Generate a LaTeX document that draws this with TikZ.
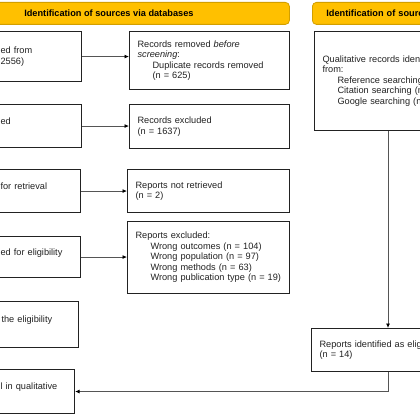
\documentclass[tikz,border=0pt]{standalone}
\usepackage{fontspec}
\setmainfont{Liberation Sans}
\usetikzlibrary{arrows.meta}
\definecolor{hdrfill}{HTML}{FFC000}
\definecolor{hdrdraw}{HTML}{D29F00}
\definecolor{linegray}{HTML}{555555}
\definecolor{boxline}{HTML}{222222}
\begin{document}
\begin{tikzpicture}[x=1pt,y=-1pt,
 every node/.style={font=\fontsize{9.2pt}{10.5pt}\selectfont, text=boxline},
 box/.style={draw=boxline, line width=1.1pt, inner xsep=8pt, inner ysep=2pt, align=left, anchor=north west},
 hdr/.style={draw=hdrdraw, fill=hdrfill, line width=0.8pt, rounded corners=4pt,
   font=\fontsize{9.2pt}{10.5pt}\selectfont\bfseries, text=black, anchor=north west, inner sep=0pt},
 arr/.style={draw=linegray, line width=0.8pt, -{Latex[length=4.5pt,width=4pt,color=black]}}]
\useasboundingbox (0,0) rectangle (420,420);
\clip (0,0) rectangle (420,420);
\fill[white] (0,0) rectangle (420,420);

% headers
\node[hdr, minimum width=361pt, minimum height=22pt] (H1) at (-72,2) {Identification of sources via databases};
\node[hdr, minimum width=200pt, minimum height=22pt, text width=172pt, align=left, inner xsep=14pt] (H2) at (312,2) {Identification of sources};

% left column
\node[box, minimum width=89pt, minimum height=50pt, text width=73pt] (L1) at (-8,31) {ed from\\2556)};
\node[box, minimum width=89pt, minimum height=43pt, text width=73pt] (L2) at (-8,104) {ed\\\mbox{}};
\node[box, minimum width=88pt, minimum height=43pt, text width=72pt] (L3) at (-8,169) {for retrieval\\\mbox{}};
\node[box, minimum width=88pt, minimum height=41pt, text width=72pt] (L4) at (-8,236) {ed for eligibility\\\mbox{}};
\node[box, minimum width=86pt, minimum height=46pt, text width=70pt] (L5) at (-8,301) {\hspace*{1pt}the eligibility\\\mbox{}};
\node[box, minimum width=82pt, minimum height=44pt, text width=66pt] (L6) at (-8,369) {l in qualitative\\\mbox{}};

% middle column
\node[box, minimum width=160pt, minimum height=58pt, text width=144pt] (M1) at (129,31)
 {Records removed \textit{before}\\\textit{screening}:\\\hspace*{15pt}Duplicate records removed\\\hspace*{15pt}(n = 625)};
\node[box, minimum width=160pt, minimum height=44pt, text width=144pt] (M2) at (129,104)
 {Records excluded\\(n = 1637)};
\node[box, minimum width=162pt, minimum height=43pt, text width=146pt] (M3) at (127,169)
 {Reports not retrieved\\(n = 2)};
\node[box, minimum width=162pt, minimum height=72pt, text width=146pt] (M4) at (127,221)
 {Reports excluded:\\\hspace*{15pt}Wrong outcomes (n = 104)\\\hspace*{15pt}Wrong population (n = 97)\\\hspace*{15pt}Wrong methods (n = 63)\\\hspace*{15pt}Wrong publication type (n = 19)};

% right column
\node[box, minimum width=200pt, minimum height=99pt, text width=184pt] (R1) at (314,31)
 {Qualitative records identified\\from:\\\hspace*{15pt}Reference searching (n\\\hspace*{15pt}Citation searching (n\\\hspace*{15pt}Google searching (n};
\node[box, minimum width=200pt, minimum height=43pt, text width=184pt] (R2) at (311,328)
 {Reports identified as eligible\\(n = 14)};

% connectors
\draw[arr] (L1.east) -- (L1.east -| M1.west);
\draw[arr] (L2.east) -- (L2.east -| M2.west);
\draw[arr] (L3.east) -- (L3.east -| M3.west);
\draw[arr] (L4.east) -- (L4.east -| M4.west);
\coordinate (vx) at (388,0);
\draw[arr] (vx |- R1.south) -- (vx |- R2.north);
\draw[arr] (vx |- R2.south) |- (L6.east);
\end{tikzpicture}
\end{document}
